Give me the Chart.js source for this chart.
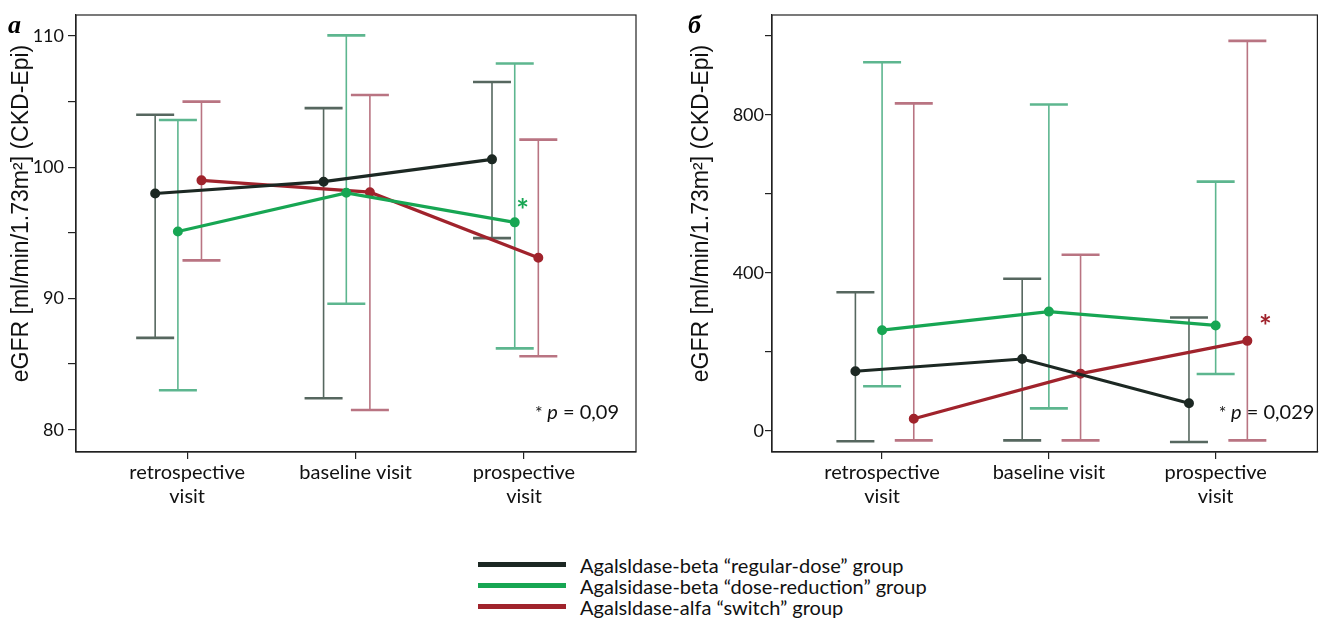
<!DOCTYPE html>
<html><head><meta charset="utf-8">
<script src="https://cdn.jsdelivr.net/npm/chart.js@4/dist/chart.umd.min.js"></script>
<style>
html,body{margin:0;padding:0;background:#fff;width:1324px;height:621px;overflow:hidden;font-family:Lato,sans-serif;}
#wa{position:absolute;left:0;top:0;width:660px;height:520px;}
#wb{position:absolute;left:660px;top:0;width:664px;height:520px;}
#legend{position:absolute;left:478px;top:554px;font-family:Lato,sans-serif;font-size:20px;color:#111;}
.row{height:21px;display:flex;align-items:center;white-space:nowrap;}
.sw{width:88px;height:5px;margin-right:14px;flex:none;}
</style></head>
<body>
<div id="wa"><canvas id="ca"></canvas></div>
<div id="wb"><canvas id="cb"></canvas></div>
<div id="legend"></div>
<script>
// ---------------- data ----------------
const categories = [["retrospective", "visit"], "baseline visit", ["prospective", "visit"]];
const seriesNames = [
  "Agalsldase-beta \u201cregular-dose\u201d group",
  "Agalsidase-beta \u201cdose-reduction\u201d group",
  "Agalsldase-alfa \u201cswitch\u201d group"
];
const yTitle = "eGFR [ml/min/1.73m\u00b2] (CKD-Epi)";

// panel a
const regularA     = [98.0, 98.9, 100.6];
const regularA_lo  = [87.0, 82.4, 94.6];
const regularA_hi  = [104.0, 104.5, 106.5];
const reductionA    = [95.1, 98.05, 95.8];
const reductionA_lo = [83.0, 89.6, 86.2];
const reductionA_hi = [103.6, 110.05, 107.9];
const switchA    = [99.0, 98.1, 93.1];
const switchA_lo = [92.9, 81.5, 85.6];
const switchA_hi = [105.0, 105.5, 102.1];
const yTicksA = [80, 85, 90, 95, 100, 105, 110];
const yLabelsA = [80, 90, 100, 110];
const pTextA = "0,09";

// panel b
const regularB    = [151, 182, 70];
const regularB_lo = [-26, -24, -28];
const regularB_hi = [351, 385, 287];
const reductionB    = [255, 302, 267];
const reductionB_lo = [113, 57, 144];
const reductionB_hi = [933, 826, 631];
const switchB    = [31, 145, 228];
const switchB_lo = [-24, -24, -24];
const switchB_hi = [829, 446, 987];
const yTicksB = [0, 200, 400, 600, 800, 1000];
const yLabelsB = [0, 400, 800];
const pTextB = "0,029";

// ---------------- styles ----------------
const COLORS = {
  line: ["#1c2823", "#17a653", "#a0232c"],
  err:  ["#56675f", "#5db68f", "#b97482"]
};
const FONT_SANS = "Lato, sans-serif";

// legend (HTML)
const leg = document.getElementById('legend');
seriesNames.forEach((n, i) => {
  const r = document.createElement('div'); r.className = 'row';
  const s = document.createElement('div'); s.className = 'sw'; s.style.background = COLORS.line[i];
  const t = document.createElement('span'); t.textContent = n;
  r.appendChild(s); r.appendChild(t); leg.appendChild(r);
});

// plugin: error bars (drawn through the chart scales)
const errorBars = {
  id: 'errorBars',
  beforeDatasetsDraw(chart) {
    const {ctx, scales: {x, y}} = chart;
    chart.data.datasets.forEach(ds => {
      if (!ds.errLo) return;
      ctx.save();
      ctx.strokeStyle = ds.errColor;
      ds.data.forEach((p, i) => {
        const px = x.getPixelForValue(p.x);
        const yl = y.getPixelForValue(ds.errLo[i]);
        const yh = y.getPixelForValue(ds.errHi[i]);
        ctx.lineWidth = 1.6;
        ctx.beginPath(); ctx.moveTo(px, yl); ctx.lineTo(px, yh); ctx.stroke();
        ctx.lineWidth = 2.6;
        ctx.beginPath();
        ctx.moveTo(px - 19, yl); ctx.lineTo(px + 19, yl);
        ctx.moveTo(px - 19, yh); ctx.lineTo(px + 19, yh);
        ctx.stroke();
      });
      ctx.restore();
    });
  }
};

// plugin: frame, titles, annotations
const decor = {
  id: 'decor',
  afterDraw(chart, args, o) {
    const {ctx, chartArea: ca, scales: {x, y}} = chart;
    ctx.save();
    ctx.strokeStyle = '#222'; ctx.lineWidth = 1.2;
    ctx.strokeRect(ca.left, ca.top, ca.right - ca.left, ca.bottom - ca.top);
    // y title
    ctx.save();
    ctx.translate(o.titleX, (ca.top + ca.bottom) / 2 - 20);
    ctx.rotate(-Math.PI / 2);
    ctx.fillStyle = '#111';
    ctx.font = '23px "Liberation Sans", sans-serif';
    ctx.textAlign = 'center'; ctx.textBaseline = 'middle';
    ctx.fillText(yTitle, 0, 0);
    ctx.restore();
    // panel letter
    ctx.fillStyle = '#000';
    ctx.font = 'italic bold 26px "Liberation Serif", serif';
    ctx.textAlign = 'left'; ctx.textBaseline = 'alphabetic';
    ctx.fillText(o.letter, o.letterX, 33);
    // star near significant series
    const sd = chart.data.datasets[o.starSeries];
    const last = sd.data[sd.data.length - 1];
    ctx.fillStyle = sd.borderColor;
    ctx.font = 'bold 30px ' + FONT_SANS;
    ctx.textAlign = 'center'; ctx.textBaseline = 'middle';
    ctx.fillText('*', x.getPixelForValue(last.x) + o.starDx, y.getPixelForValue(last.y) + o.starDy);
    // p value text
    ctx.fillStyle = '#111';
    ctx.textBaseline = 'alphabetic';
    const parts = [['* ', '18px ' + FONT_SANS], ['p', 'italic 20px ' + FONT_SANS], [' = ' + o.pText, '20px ' + FONT_SANS]];
    let w = 0;
    parts.forEach(pp => { ctx.font = pp[1]; w += ctx.measureText(pp[0]).width; });
    let cx = ca.right - o.pRight - w;
    ctx.textAlign = 'left';
    parts.forEach(pp => { ctx.font = pp[1]; ctx.fillText(pp[0], cx, 419); cx += ctx.measureText(pp[0]).width; });
    ctx.restore();
  }
};

function makeDatasets(vals, los, his, offs) {
  return vals.map((v, k) => ({
    label: seriesNames[k],
    data: v.map((val, i) => ({x: i + offs[k], y: val})),
    errLo: los[k], errHi: his[k], errColor: COLORS.err[k],
    borderColor: COLORS.line[k], backgroundColor: COLORS.line[k],
    borderWidth: 3.2, pointRadius: 3.4, pointHoverRadius: 3.4,
    showLine: true, tension: 0
  }));
}

function makeChart(id, cfg) {
  return new Chart(document.getElementById(id), {
    type: 'scatter',
    data: {datasets: makeDatasets(cfg.vals, cfg.los, cfg.his, cfg.offs)},
    options: {
      responsive: true, maintainAspectRatio: false, animation: false,
      layout: {padding: {top: 15, right: cfg.padRight, left: 0, bottom: 0}},
      plugins: {legend: {display: false}, tooltip: {enabled: false}, decor: cfg.decor},
      scales: {
        x: {
          type: 'linear', position: 'bottom', min: cfg.xmin, max: cfg.xmax,
          afterBuildTicks: a => { a.ticks = categories.map((c, i) => ({value: i})); },
          afterFit: s => { s.height = 68; },
          ticks: {callback: v => categories[v], font: {family: FONT_SANS, size: 20}, color: '#111', padding: 2, maxRotation: 0, autoSkip: false},
          grid: {display: true, drawOnChartArea: false, drawTicks: true, tickLength: 7, color: '#222', lineWidth: 1.2},
          border: {display: true, color: '#222', width: 1.2}
        },
        y: {
          type: 'linear', min: cfg.ymin, max: cfg.ymax,
          afterBuildTicks: a => { a.ticks = cfg.yTicks.map(v => ({value: v})); },
          afterFit: s => { s.width = cfg.yWidth; },
          ticks: {callback: v => cfg.yLabels.includes(v) ? String(v) : '', font: {family: FONT_SANS, size: 18}, color: '#111', padding: cfg.tickPad, autoSkip: false},
          grid: {display: true, drawOnChartArea: false, drawTicks: true, tickLength: cfg.tickLen, color: '#222', lineWidth: 1.2},
          border: {display: true, color: '#222', width: 1.2}
        }
      }
    },
    plugins: [errorBars, decor]
  });
}

makeChart('ca', {
  vals: [regularA, reductionA, switchA],
  los: [regularA_lo, reductionA_lo, switchA_lo],
  his: [regularA_hi, reductionA_hi, switchA_hi],
  offs: [-0.19, -0.055, 0.085],
  xmin: -0.66, xmax: 2.665, ymin: 78.3, ymax: 111.6,
  yTicks: yTicksA, yLabels: yLabelsA, yWidth: 76, padRight: 24, tickLen: 8, tickPad: 4,
  decor: {titleX: 22, letter: 'a', letterX: 8, starSeries: 1, starDx: 8, starDy: -11, pText: pTextA, pRight: 17}
});
makeChart('cb', {
  vals: [regularB, reductionB, switchB],
  los: [regularB_lo, reductionB_lo, switchB_lo],
  his: [regularB_hi, reductionB_hi, switchB_hi],
  offs: [-0.16, 0.0, 0.19],
  xmin: -0.66, xmax: 2.61, ymin: -53.3, ymax: 1052.6,
  yTicks: yTicksB, yLabels: yLabelsB, yWidth: 112, padRight: 2, tickLen: 7, tickPad: 1,
  decor: {titleX: 42, letter: '\u0431', letterX: 28, starSeries: 2, starDx: 18, starDy: -14, pText: pTextB, pRight: 3}
});
</script>
</body></html>
